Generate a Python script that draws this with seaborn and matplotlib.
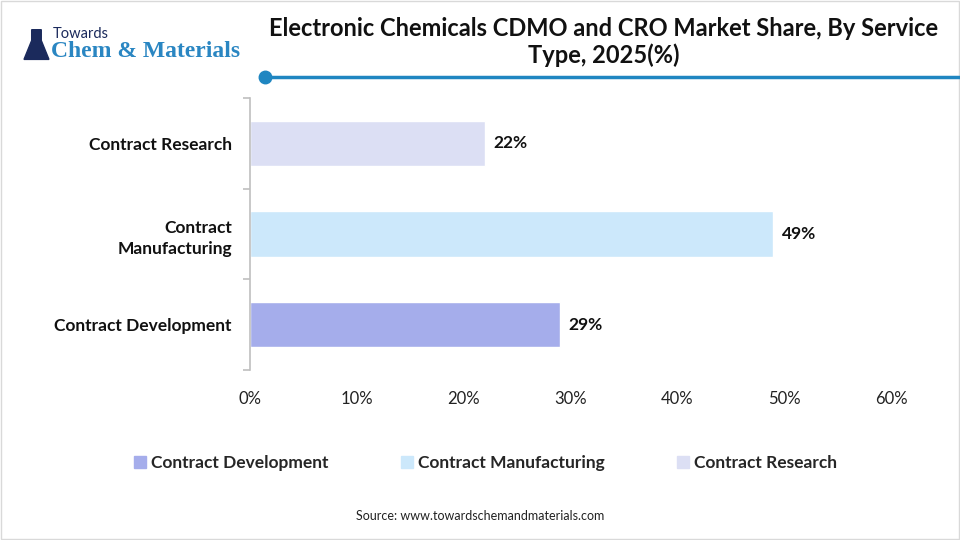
import matplotlib
matplotlib.use("Agg")
import matplotlib.pyplot as plt
import matplotlib.patches as mpatches
import seaborn as sns
import pandas as pd
import numpy as np

# -----------------------------
# Data
# -----------------------------
services = ['Contract Research', 'Contract\nManufacturing', 'Contract Development']
shares = [22, 49, 29]
legend_names = ['Contract Development', 'Contract Manufacturing', 'Contract Research']
bar_colors = ['#DCDFF4', '#CCE8FB', '#A5ADEB']
x_ticks = [0, 10, 20, 30, 40, 50, 60]

df = pd.DataFrame({'Service': services, 'Share': shares})

sns.set_theme(style="white")
plt.rcParams['font.family'] = ['Lato', 'DejaVu Sans']

fig = plt.figure(figsize=(9.6, 5.4), dpi=100)
ax = fig.add_axes([0.2604, 0.3148, 0.6677, 0.5037])

sns.barplot(data=df, y='Service', x='Share', hue='Service',
            palette=dict(zip(services, bar_colors)), width=0.5,
            orient='h', legend=False, ax=ax, saturation=1)

ax.set_xlim(0, 60)
ax.set_ylim(2.5, -0.5)
ax.set_xticks(x_ticks)
ax.set_xticklabels([f'{t}%' for t in x_ticks], fontsize=12, color='#222222')
ax.tick_params(axis='x', length=0, pad=15)
ax.tick_params(axis='y', which='major', length=0, pad=13)
ax.set_yticks(np.arange(len(services)))
ax.set_yticklabels(services, fontsize=12.5, fontweight='bold', color='#111111',
                   linespacing=1.45)
ax.set_yticks([-0.5, 0.5, 1.5, 2.5], minor=True)
ax.tick_params(axis='y', which='minor', length=5, color='#BFBFBF', width=1.2, left=True)
ax.set_xlabel('')
ax.set_ylabel('')
for s in ['top', 'right', 'bottom']:
    ax.spines[s].set_visible(False)
ax.spines['left'].set_color('#BFBFBF')
ax.spines['left'].set_linewidth(1.2)

for i, v in enumerate(shares):
    ax.text(v + 0.8, i, f'{v}%', va='center', ha='left',
            fontsize=12.5, fontweight='bold', color='#111111')

# legend
handles = [mpatches.Patch(color=bar_colors[services.index(s)]) for s in
           ['Contract Development', 'Contract\nManufacturing', 'Contract Research']]
fig.legend(handles, legend_names, loc='center', bbox_to_anchor=(0.506, 0.143),
           ncol=3, frameon=False, prop={'weight': 'bold', 'size': 12.5},
           handlelength=0.7, handleheight=0.7, handletextpad=0.3, columnspacing=4.15)

# title
fig.text(0.629, 0.922, 'Electronic Chemicals CDMO and CRO Market Share, By Service\nType, 2025(%)',
         ha='center', va='center', fontsize=17, fontweight='bold', color='#111111',
         linespacing=1.2)
fig.add_artist(plt.Line2D([0.276, 1.0], [0.857, 0.857], color='#1F86C1', lw=2.5))
fig.add_artist(plt.Line2D([0.276], [0.857], marker='o', markersize=9, color='#1F86C1'))

# logo
flask = mpatches.Polygon([[0.025, 0.890], [0.051, 0.890], [0.043, 0.925], [0.043, 0.945],
                          [0.033, 0.945], [0.033, 0.925]], closed=True,
                         transform=fig.transFigure, color='#1B2A5C')
fig.add_artist(flask)
fig.text(0.055, 0.937, 'Towards', fontsize=10.5, color='#1B2A5C', ha='left', va='center')
fig.text(0.053, 0.905, 'Chem & Materials', fontsize=17, color='#2A86C2', ha='left',
         va='center', family='Liberation Serif', fontweight='bold')

fig.text(0.5, 0.044, 'Source: www.towardschemandmaterials.com', ha='center', va='center',
         fontsize=9, color='#222222')

# frame
fig.add_artist(mpatches.Rectangle((0.001, 0.002), 0.998, 0.996, transform=fig.transFigure,
                                  fill=False, edgecolor='#D9D9D9', lw=1))

plt.savefig('out.png', dpi=100)
